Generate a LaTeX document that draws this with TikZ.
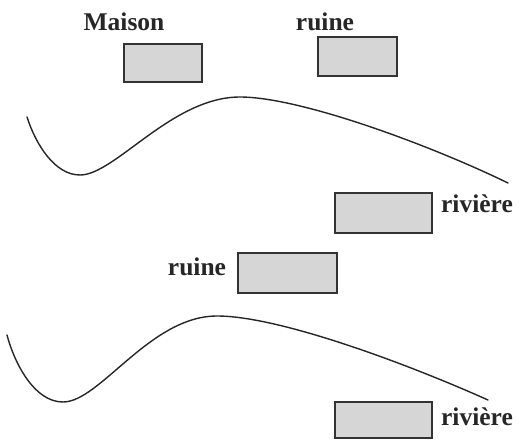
\documentclass[tikz,border=0pt]{standalone}
\usepackage{fontspec}
\setmainfont{Liberation Serif}
\begin{document}
\begin{tikzpicture}[x=1pt,y=-1pt,
  lbl/.style={font=\fontsize{25.5}{29}\selectfont\bfseries, text=black!85, anchor=base, inner sep=0pt},
  hatchbox/.style={draw=black!80, line width=1.6pt, fill=black!16, inner sep=0pt, outer sep=0pt},
  river/.style={draw=black!85, line width=1.4pt, line cap=round}]
\useasboundingbox[fill=white] (0,0) rectangle (519,439);
% labels
\node[lbl] (maison) at (124,30) {Maison};
\node[lbl] (ruine1) at (325,30) {ruine};
\node[lbl] (riv1) at (477,212) {rivière};
\node[lbl] (ruine2) at (197,275) {ruine};
\node[lbl] (riv2) at (477,425) {rivière};
% boxes
\node[hatchbox, minimum width=78pt, minimum height=38pt] (b1) at (163,63) {};
\node[hatchbox, minimum width=79pt, minimum height=39pt] (b2) at (357.5,56.5) {};
\node[hatchbox, minimum width=97pt, minimum height=40pt] (b3) at (383.5,213) {};
\node[hatchbox, minimum width=99pt, minimum height=40pt] (b4) at (287.5,273) {};
\node[hatchbox, minimum width=97pt, minimum height=36pt] (b5) at (383.5,420) {};
% curves
\draw[river] (27,117) .. controls (36,145) and (55,175) .. (80,175)
  .. controls (115,175) and (172,97) .. (240,97)
  .. controls (300,97) and (430,145) .. (508,183);
\draw[river] (7,335) .. controls (15,365) and (35,402) .. (63,402)
  .. controls (100,402) and (150,316) .. (217,316)
  .. controls (280,316) and (410,365) .. (488,400);
\end{tikzpicture}
\end{document}
